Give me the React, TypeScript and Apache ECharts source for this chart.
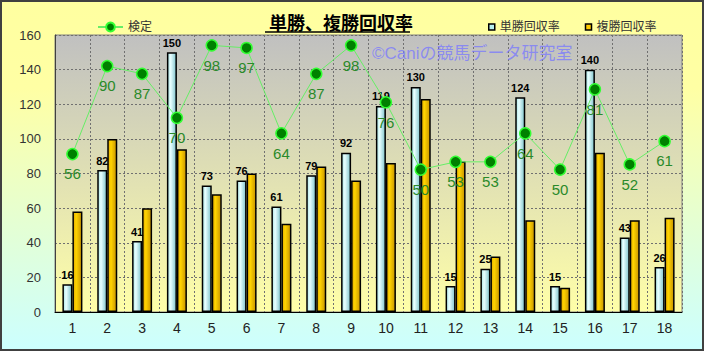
import React, { useEffect, useRef } from "react";
import * as echarts from "echarts";

const categories = ["1","2","3","4","5","6","7","8","9","10","11","12","13","14","15","16","17","18"];
const tanshoValues = [16, 82, 41, 150, 73, 76, 61, 79, 92, 119, 130, 15, 25, 124, 15, 140, 43, 26];
const fukushoValues = [58, 100, 60, 94, 68, 80, 51, 84, 76, 86, 123, 87, 32, 53, 14, 92, 53, 54.5];
const kenteiValues = [56, 90, 87, 70, 98, 97, 64, 87, 98, 76, 50, 53, 53, 64, 50, 81, 52, 61];
const yTicks = { min: 0, max: 160, interval: 20 };

const FONT = '"Liberation Sans", Arial, "Noto Sans CJK JP", sans-serif';

export default function App() {
  const ref = useRef<HTMLDivElement>(null);
  useEffect(() => {
    document.body.style.margin = "0";
    if (!ref.current) return;
    const chart = echarts.init(ref.current, null, { renderer: "svg" });
    const LG = echarts.graphic.LinearGradient;
    chart.setOption({
      animation: false,
      textStyle: { fontFamily: FONT },
      title: {
        text: "単勝、複勝回収率",
        left: 264,
        top: 10,
        textStyle: { fontSize: 18, fontWeight: "bold", color: "#000", fontFamily: FONT },
      },
      graphic: [
        {
          type: "rect",
          z: -10,
          silent: true,
          shape: { x: 1, y: 1, width: 702, height: 349 },
          style: {
            fill: new LG(0, 0, 0, 1, [
              { offset: 0, color: "#ffffa0" },
              { offset: 0.25, color: "#ffffa4" },
              { offset: 1, color: "#ccffff" },
            ]),
            stroke: "#404040",
            lineWidth: 2,
          },
        },
        {
          type: "line",
          z: 10,
          silent: true,
          shape: { x1: 265, y1: 32, x2: 410, y2: 32 },
          style: { stroke: "#000", lineWidth: 1.5 },
        },
        {
          type: "text",
          z: 1,
          silent: true,
          left: 372,
          top: 45,
          style: {
            text: "©Caniの競馬データ研究室",
            fontSize: 17,
            fontFamily: FONT,
            fill: "rgba(120,120,255,0.75)",
          },
        },
      ],
      legend: [
        {
          data: ["検定"],
          left: 92,
          top: 16,
          itemWidth: 25,
          itemHeight: 11,
          textStyle: { fontSize: 12, color: "#333", fontFamily: FONT },
        },
        {
          data: [
            { name: "単勝回収率", itemStyle: { color: "#b8f0f0", borderColor: "#000", borderWidth: 1.5 } },
            { name: "複勝回収率", itemStyle: { color: "#ffcc00", borderColor: "#000", borderWidth: 1.5 } },
          ],
          left: 483,
          top: 16,
          itemWidth: 6,
          itemHeight: 6,
          itemGap: 25,
          icon: "rect",
          textStyle: { fontSize: 12, color: "#333", fontFamily: FONT },
        },
      ],
      grid: {
        left: 55,
        right: 22,
        top: 35,
        bottom: 39,
        show: true,
        backgroundColor: new LG(0, 0, 0, 1, [
          { offset: 0, color: "#c0c0c0" },
          { offset: 1, color: "#ffffa8" },
        ]),
        borderColor: "#808080",
        borderWidth: 1,
      },
      xAxis: {
        type: "category",
        data: categories,
        axisLine: { show: true, lineStyle: { color: "#000", width: 1 } },
        axisTick: { show: false },
        axisLabel: { fontSize: 14, color: "#222", margin: 9, fontFamily: FONT },
        splitLine: { show: true, interval: 0, lineStyle: { color: "#707070", type: [2, 2], width: 1 } },
      },
      yAxis: [
        {
          type: "value",
          min: yTicks.min,
          max: yTicks.max,
          interval: yTicks.interval,
          axisLine: { show: true, lineStyle: { color: "#404040" } },
          axisTick: { show: false },
          axisLabel: { fontSize: 13, color: "#333", margin: 14, fontFamily: FONT },
          splitLine: { show: true, lineStyle: { color: "#707070", type: [2, 2], width: 1 } },
        },
        {
          type: "value",
          show: false,
          min: -5,
          max: 102,
          splitLine: { show: false },
        },
      ],
      series: [
        {
          name: "単勝回収率",
          type: "bar",
          data: tanshoValues,
          barWidth: 10,
          barGap: "0%",
          itemStyle: {
            color: new LG(0, 0, 1, 0, [
              { offset: 0, color: "#a8e4e4" },
              { offset: 0.35, color: "#e8ffff" },
              { offset: 1, color: "#80c4cc" },
            ]),
            borderColor: "#000",
            borderWidth: 1.5,
          },
          label: {
            show: true,
            position: "top",
            distance: 4,
            fontSize: 11,
            fontWeight: "bold",
            color: "#000",
            fontFamily: FONT,
          },
        },
        {
          name: "複勝回収率",
          type: "bar",
          data: fukushoValues,
          barWidth: 10,
          itemStyle: {
            color: new LG(0, 0, 1, 0, [
              { offset: 0, color: "#e0a800" },
              { offset: 0.35, color: "#ffd400" },
              { offset: 1, color: "#c89400" },
            ]),
            borderColor: "#000",
            borderWidth: 1.5,
          },
        },
        {
          name: "検定",
          type: "line",
          yAxisIndex: 1,
          data: kenteiValues,
          z: 5,
          symbol: "circle",
          symbolSize: 11,
          lineStyle: { color: "#66ee66", width: 1 },
          itemStyle: { color: "#008000", borderColor: "#33ff33", borderWidth: 1.5 },
          label: {
            show: true,
            position: "bottom",
            distance: 6,
            fontSize: 15,
            color: "#2a8a2a",
            fontFamily: FONT,
          },
        },
      ],
    });
    return () => chart.dispose();
  }, []);
  return <div ref={ref} style={{ width: 704, height: 351 }} />;
}
